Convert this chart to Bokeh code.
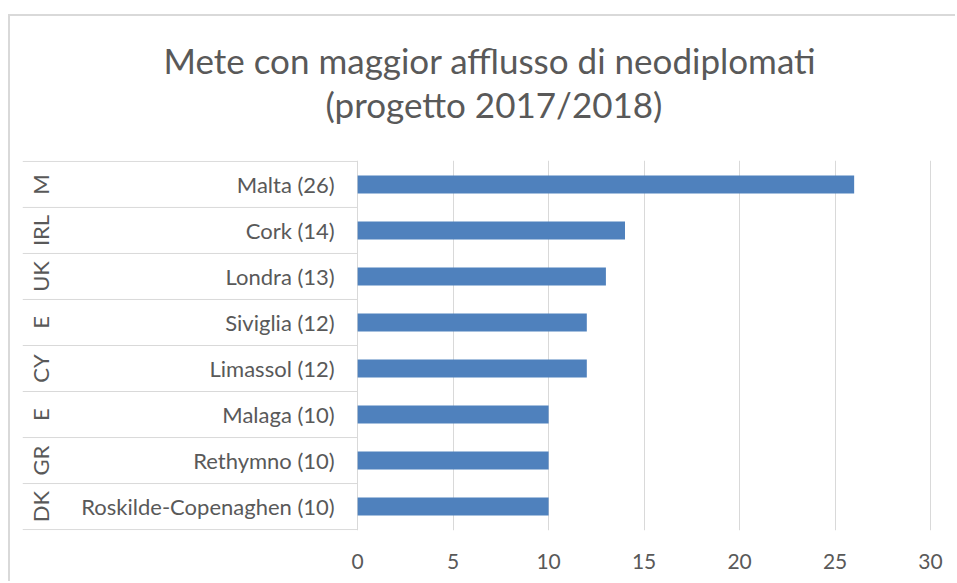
from bokeh.plotting import figure
from bokeh.models import Range1d, FixedTicker, Title, ColumnDataSource
from bokeh.core.properties import value
from bokeh.embed import file_html
from bokeh.resources import INLINE

# ---- data ----
countries = ["M", "IRL", "UK", "E", "CY", "E", "GR", "DK"]
cities = ["Malta", "Cork", "Londra", "Siviglia", "Limassol", "Malaga", "Rethymno", "Roskilde-Copenaghen"]
counts = [26, 14, 13, 12, 12, 10, 10, 10]
x_ticks = [0, 5, 10, 15, 20, 25, 30]
title_lines = ["Mete con maggior afflusso di neodiplomati", "(progetto 2017/2018)"]

# ---- style ----
FONT = "Lato"
TXT = "#595959"
GRID = "#d9d9d9"
BAR = "#4f81bd"

n = len(cities)
labels = [f"{c} ({v})" for c, v in zip(cities, counts)]
ypos = [n - 0.5 - i for i in range(n)]

X_MIN, X_MAX = -17.55, 30.05
src = ColumnDataSource(dict(y=ypos, v=counts, lab=labels, ctry=countries,
                            lx=[-1.2] * n, cx=[-16.6] * n))

p = figure(width=947, height=567,
           x_range=Range1d(X_MIN, X_MAX), y_range=Range1d(-0.02, n + 0.02),
           output_backend="svg", toolbar_location=None, y_axis_location=None,
           min_border_left=12, min_border_right=26, min_border_top=144, min_border_bottom=53,
           outline_line_color=None, background_fill_color="white", border_fill_color="white",
           margin=(14, 0, 0, 8))
p.styles = {"border-left": f"2px solid {GRID}", "border-top": f"2px solid {GRID}"}

# titles (added nearest-first)
p.add_layout(Title(text=" ", text_font_size="20px", text_font=FONT, standoff=10), "above")
p.add_layout(Title(text=title_lines[1], align="left", offset=303, text_font=FONT,
                   text_font_size="35px", text_font_style="normal", text_color=TXT,
                   standoff=0), "above")
p.add_layout(Title(text=title_lines[0], align="left", offset=141, text_font=FONT,
                   text_font_size="35px", text_font_style="normal", text_color=TXT,
                   standoff=0), "above")

# grid / axis
p.xgrid.ticker = FixedTicker(ticks=x_ticks)
p.xgrid.grid_line_color = GRID
p.ygrid.grid_line_color = None
p.xaxis.ticker = FixedTicker(ticks=x_ticks)
p.xaxis.axis_line_color = None
p.xaxis.major_tick_line_color = None
p.xaxis.minor_tick_line_color = None
p.xaxis.major_label_text_font = FONT
p.xaxis.major_label_text_font_size = "21px"
p.xaxis.major_label_text_color = TXT
p.xaxis.major_label_standoff = 17

# table lines
bounds = list(range(n + 1))
p.segment(x0=[X_MIN] * (n + 1), x1=[0] * (n + 1), y0=bounds, y1=bounds,
          line_color=GRID, line_width=1)

# bars
p.hbar(y="y", left=0, right="v", height=0.39, source=src, fill_color=BAR, line_color=None)

# labels
p.text(x="lx", y="y", text="lab", source=src, text_align="right", text_baseline="middle",
       text_font=value(FONT), text_font_size="22px", text_color=TXT)
p.text(x="cx", y="y", text="ctry", source=src, angle=1.5708, text_align="center",
       text_baseline="middle", text_font=value(FONT), text_font_size="22px", text_color=TXT)

open("out.html", "w").write(file_html(p, INLINE))
